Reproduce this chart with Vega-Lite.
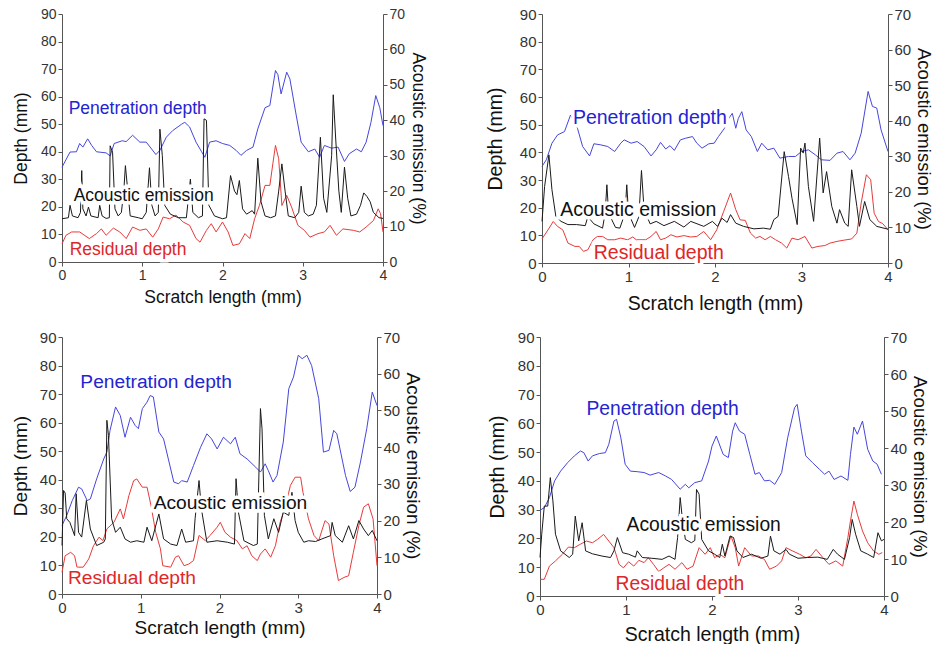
{
"$schema": "https://vega.github.io/schema/vega-lite/v6.json",
"padding": {"left": 11, "top": 7, "right": 0, "bottom": 0},
"background": "white",
"datasets": {
"one": [{"k": 1}],
"p1pen": [{"x":0,"y":34.4},{"x":0.1,"y":39.9},{"x":0.18,"y":40},{"x":0.22,"y":43},{"x":0.26,"y":41.7},{"x":0.32,"y":44.7},{"x":0.37,"y":42.3},{"x":0.43,"y":40},{"x":0.55,"y":39.6},{"x":0.6,"y":38.5},{"x":0.65,"y":43},{"x":0.75,"y":44},{"x":0.8,"y":43.7},{"x":0.88,"y":46},{"x":0.97,"y":43.5},{"x":1.05,"y":43.5},{"x":1.17,"y":39},{"x":1.22,"y":40.5},{"x":1.3,"y":45.3},{"x":1.38,"y":47.7},{"x":1.49,"y":50},{"x":1.53,"y":50.7},{"x":1.59,"y":49},{"x":1.67,"y":43.5},{"x":1.74,"y":40},{"x":1.78,"y":38},{"x":1.84,"y":43.5},{"x":1.92,"y":44},{"x":2.0,"y":43},{"x":2.09,"y":42.3},{"x":2.17,"y":40.5},{"x":2.23,"y":38.7},{"x":2.3,"y":40.5},{"x":2.38,"y":41.7},{"x":2.44,"y":48.3},{"x":2.53,"y":56},{"x":2.59,"y":56.8},{"x":2.66,"y":69.5},{"x":2.69,"y":68},{"x":2.73,"y":61},{"x":2.8,"y":68.9},{"x":2.84,"y":66.4},{"x":2.92,"y":53},{"x":2.98,"y":43.5},{"x":3.07,"y":40},{"x":3.15,"y":41},{"x":3.21,"y":38},{"x":3.27,"y":42.3},{"x":3.36,"y":41.3},{"x":3.44,"y":41.7},{"x":3.52,"y":36.5},{"x":3.58,"y":39.3},{"x":3.67,"y":41},{"x":3.73,"y":40},{"x":3.79,"y":43.5},{"x":3.85,"y":50.7},{"x":3.91,"y":60.4},{"x":3.96,"y":56},{"x":4.0,"y":49.5}],
"p1res": [{"x":0,"y":6.6},{"x":0.05,"y":9.7},{"x":0.12,"y":10.9},{"x":0.22,"y":10.9},{"x":0.34,"y":8.5},{"x":0.43,"y":10.3},{"x":0.49,"y":12},{"x":0.55,"y":9.7},{"x":0.64,"y":12.3},{"x":0.72,"y":10.9},{"x":0.8,"y":8.5},{"x":0.88,"y":12.7},{"x":0.97,"y":11.5},{"x":1.05,"y":12},{"x":1.13,"y":9},{"x":1.2,"y":12},{"x":1.26,"y":16.3},{"x":1.34,"y":15.7},{"x":1.42,"y":17},{"x":1.51,"y":14.5},{"x":1.59,"y":13.3},{"x":1.67,"y":8.5},{"x":1.72,"y":7.2},{"x":1.8,"y":11.5},{"x":1.86,"y":13.9},{"x":1.92,"y":10.9},{"x":2.0,"y":14.5},{"x":2.07,"y":10.9},{"x":2.13,"y":6},{"x":2.21,"y":6.6},{"x":2.28,"y":10.3},{"x":2.34,"y":8.5},{"x":2.4,"y":15.7},{"x":2.46,"y":20.5},{"x":2.53,"y":27.8},{"x":2.59,"y":27.8},{"x":2.63,"y":36.2},{"x":2.66,"y":42.3},{"x":2.7,"y":37.5},{"x":2.74,"y":20.5},{"x":2.8,"y":24.2},{"x":2.86,"y":20},{"x":2.94,"y":13.3},{"x":3.02,"y":11.5},{"x":3.09,"y":9},{"x":3.19,"y":10.3},{"x":3.27,"y":10.9},{"x":3.34,"y":13.3},{"x":3.42,"y":9.7},{"x":3.5,"y":12},{"x":3.63,"y":11.5},{"x":3.71,"y":10.9},{"x":3.79,"y":12.7},{"x":3.88,"y":15},{"x":3.94,"y":19.3},{"x":3.97,"y":17.5},{"x":4.0,"y":10.9}],
"p1ae": [{"x":0,"y":12.2},{"x":0.08,"y":12.5},{"x":0.1,"y":16},{"x":0.13,"y":13},{"x":0.2,"y":12.5},{"x":0.23,"y":14},{"x":0.246,"y":25.8},{"x":0.26,"y":15},{"x":0.3,"y":13},{"x":0.33,"y":15.5},{"x":0.36,"y":13},{"x":0.45,"y":12.5},{"x":0.47,"y":16},{"x":0.5,"y":13},{"x":0.55,"y":12.3},{"x":0.59,"y":12.5},{"x":0.6,"y":32.8},{"x":0.63,"y":31},{"x":0.66,"y":15},{"x":0.7,"y":13},{"x":0.74,"y":14},{"x":0.77,"y":20},{"x":0.79,"y":27.2},{"x":0.82,"y":20},{"x":0.85,"y":13},{"x":0.95,"y":12.5},{"x":1.0,"y":12.2},{"x":1.05,"y":14},{"x":1.09,"y":26.6},{"x":1.12,"y":16},{"x":1.16,"y":13},{"x":1.2,"y":14},{"x":1.22,"y":37.5},{"x":1.25,"y":30},{"x":1.28,"y":16},{"x":1.35,"y":13.5},{"x":1.45,"y":12.5},{"x":1.55,"y":12.5},{"x":1.6,"y":23.4},{"x":1.63,"y":14},{"x":1.7,"y":12.5},{"x":1.75,"y":13},{"x":1.77,"y":40.4},{"x":1.8,"y":40},{"x":1.83,"y":16},{"x":1.9,"y":13},{"x":2.0,"y":12.2},{"x":2.05,"y":12.5},{"x":2.1,"y":24.4},{"x":2.15,"y":20},{"x":2.18,"y":19},{"x":2.21,"y":23},{"x":2.25,"y":15},{"x":2.3,"y":13.5},{"x":2.37,"y":14.5},{"x":2.4,"y":13.5},{"x":2.44,"y":29.3},{"x":2.48,"y":17},{"x":2.53,"y":13},{"x":2.6,"y":12.5},{"x":2.66,"y":13},{"x":2.7,"y":20},{"x":2.74,"y":27.7},{"x":2.78,"y":20},{"x":2.82,"y":13},{"x":2.9,"y":12.5},{"x":2.95,"y":14},{"x":2.98,"y":21.4},{"x":3.02,"y":14},{"x":3.07,"y":13},{"x":3.13,"y":13.5},{"x":3.17,"y":16},{"x":3.22,"y":35.2},{"x":3.26,"y":18},{"x":3.3,"y":14},{"x":3.36,"y":30},{"x":3.38,"y":47.2},{"x":3.41,"y":35},{"x":3.45,"y":20},{"x":3.48,"y":14},{"x":3.52,"y":26.8},{"x":3.56,"y":18},{"x":3.6,"y":13},{"x":3.67,"y":13.5},{"x":3.72,"y":16},{"x":3.76,"y":19.5},{"x":3.8,"y":18.5},{"x":3.84,"y":17},{"x":3.88,"y":14},{"x":3.95,"y":12.5},{"x":4.0,"y":12.3}],
"p2pen": [{"x":0,"y":34.9},{"x":0.05,"y":37.3},{"x":0.115,"y":43.3},{"x":0.18,"y":46.3},{"x":0.26,"y":47.5},{"x":0.33,"y":53.5},{"x":0.41,"y":48.7},{"x":0.47,"y":42.1},{"x":0.55,"y":38.7},{"x":0.6,"y":43.1},{"x":0.68,"y":42.7},{"x":0.76,"y":42.1},{"x":0.84,"y":40.3},{"x":0.91,"y":43.3},{"x":0.95,"y":44.5},{"x":1.03,"y":43.3},{"x":1.1,"y":43.9},{"x":1.18,"y":42.1},{"x":1.26,"y":38.7},{"x":1.32,"y":40.9},{"x":1.37,"y":43.6},{"x":1.43,"y":41.2},{"x":1.48,"y":42.4},{"x":1.53,"y":40.7},{"x":1.6,"y":44.5},{"x":1.66,"y":45.1},{"x":1.74,"y":45.7},{"x":1.79,"y":43.3},{"x":1.85,"y":41.5},{"x":1.93,"y":43.1},{"x":1.99,"y":43.3},{"x":2.04,"y":45.7},{"x":2.11,"y":48.7},{"x":2.16,"y":52.3},{"x":2.2,"y":54.1},{"x":2.24,"y":48.7},{"x":2.27,"y":52.3},{"x":2.31,"y":54.7},{"x":2.36,"y":48.1},{"x":2.42,"y":45.7},{"x":2.49,"y":40.3},{"x":2.54,"y":43.3},{"x":2.61,"y":40.9},{"x":2.68,"y":41.5},{"x":2.75,"y":37.9},{"x":2.85,"y":38.5},{"x":2.93,"y":38.5},{"x":3.0,"y":40.3},{"x":3.08,"y":40.9},{"x":3.16,"y":39.1},{"x":3.23,"y":37.3},{"x":3.33,"y":37.1},{"x":3.41,"y":39.7},{"x":3.48,"y":40.3},{"x":3.56,"y":37.3},{"x":3.62,"y":39.7},{"x":3.69,"y":46.9},{"x":3.77,"y":62},{"x":3.82,"y":56.6},{"x":3.87,"y":56},{"x":3.92,"y":48.1},{"x":4.0,"y":40.3}],
"p2res": [{"x":0,"y":8.7},{"x":0.07,"y":12},{"x":0.13,"y":15},{"x":0.18,"y":13.2},{"x":0.24,"y":12},{"x":0.3,"y":7.2},{"x":0.38,"y":6},{"x":0.43,"y":6},{"x":0.48,"y":4.2},{"x":0.53,"y":4.8},{"x":0.59,"y":8.4},{"x":0.64,"y":9.6},{"x":0.7,"y":9.6},{"x":0.76,"y":8.4},{"x":0.84,"y":8.4},{"x":0.91,"y":9},{"x":0.99,"y":8.4},{"x":1.05,"y":9.4},{"x":1.09,"y":8.4},{"x":1.2,"y":8.4},{"x":1.26,"y":9.6},{"x":1.32,"y":11.4},{"x":1.37,"y":8.4},{"x":1.43,"y":9},{"x":1.49,"y":10.2},{"x":1.56,"y":9.4},{"x":1.64,"y":9.9},{"x":1.72,"y":9.4},{"x":1.79,"y":9.6},{"x":1.87,"y":11.4},{"x":1.95,"y":8.4},{"x":2.02,"y":12},{"x":2.1,"y":18.6},{"x":2.18,"y":25.3},{"x":2.24,"y":19.3},{"x":2.29,"y":15.6},{"x":2.35,"y":15.4},{"x":2.41,"y":10.8},{"x":2.47,"y":9},{"x":2.52,"y":9.6},{"x":2.58,"y":8.4},{"x":2.64,"y":9.6},{"x":2.7,"y":8.4},{"x":2.77,"y":7.2},{"x":2.83,"y":5.4},{"x":2.89,"y":9},{"x":2.96,"y":8.4},{"x":3.04,"y":9.6},{"x":3.12,"y":5.4},{"x":3.19,"y":6},{"x":3.27,"y":6.3},{"x":3.33,"y":7.2},{"x":3.41,"y":7.8},{"x":3.48,"y":8.2},{"x":3.58,"y":8.7},{"x":3.64,"y":10.8},{"x":3.69,"y":21.7},{"x":3.75,"y":31.9},{"x":3.8,"y":30.1},{"x":3.84,"y":18},{"x":3.89,"y":15},{"x":3.94,"y":14.2},{"x":4.0,"y":12}],
"p2ae": [{"x":0,"y":11.7},{"x":0.03,"y":21.5},{"x":0.08,"y":30.4},{"x":0.115,"y":20.6},{"x":0.16,"y":13.1},{"x":0.22,"y":11.7},{"x":0.3,"y":10.8},{"x":0.4,"y":10.8},{"x":0.5,"y":10.5},{"x":0.53,"y":13},{"x":0.6,"y":11},{"x":0.7,"y":9.8},{"x":0.73,"y":14},{"x":0.75,"y":22},{"x":0.77,"y":14},{"x":0.85,"y":10},{"x":0.9,"y":9.8},{"x":0.96,"y":14},{"x":0.98,"y":22},{"x":1.0,"y":14},{"x":1.07,"y":10},{"x":1.12,"y":13},{"x":1.15,"y":26},{"x":1.18,"y":15},{"x":1.25,"y":11},{"x":1.32,"y":11.7},{"x":1.41,"y":10.5},{"x":1.53,"y":11.7},{"x":1.64,"y":10.1},{"x":1.72,"y":11.7},{"x":1.87,"y":10.3},{"x":1.97,"y":11.7},{"x":2.03,"y":10.3},{"x":2.08,"y":12.6},{"x":2.14,"y":11.4},{"x":2.18,"y":13.6},{"x":2.24,"y":11.2},{"x":2.33,"y":10.3},{"x":2.45,"y":9.6},{"x":2.56,"y":9.8},{"x":2.64,"y":9.5},{"x":2.68,"y":12.2},{"x":2.73,"y":13.1},{"x":2.8,"y":31.3},{"x":2.85,"y":24.3},{"x":2.89,"y":18.2},{"x":2.95,"y":10.8},{"x":2.99,"y":32.3},{"x":3.02,"y":30.9},{"x":3.04,"y":33.7},{"x":3.08,"y":21.5},{"x":3.14,"y":11.7},{"x":3.21,"y":35.1},{"x":3.25,"y":19.7},{"x":3.29,"y":25.7},{"x":3.35,"y":15.9},{"x":3.41,"y":11.2},{"x":3.44,"y":15},{"x":3.5,"y":11.2},{"x":3.54,"y":10.3},{"x":3.58,"y":26.2},{"x":3.64,"y":15.9},{"x":3.67,"y":10.3},{"x":3.73,"y":17.3},{"x":3.79,"y":12.2},{"x":3.87,"y":10.3},{"x":4.0,"y":9.5}],
"p3pen": [{"x":0,"y":24},{"x":0.06,"y":27.5},{"x":0.13,"y":32.7},{"x":0.21,"y":37.4},{"x":0.25,"y":36.8},{"x":0.32,"y":32.7},{"x":0.36,"y":33.3},{"x":0.44,"y":40.3},{"x":0.53,"y":47.3},{"x":0.57,"y":49.7},{"x":0.61,"y":57.3},{"x":0.68,"y":65.5},{"x":0.74,"y":62.5},{"x":0.8,"y":54.9},{"x":0.87,"y":61.9},{"x":0.93,"y":59},{"x":0.97,"y":57.9},{"x":1.02,"y":64.9},{"x":1.08,"y":67.2},{"x":1.12,"y":69.5},{"x":1.16,"y":69},{"x":1.23,"y":56.7},{"x":1.29,"y":54.3},{"x":1.35,"y":47.3},{"x":1.42,"y":39.2},{"x":1.48,"y":38.6},{"x":1.52,"y":39.7},{"x":1.59,"y":39.2},{"x":1.67,"y":45},{"x":1.76,"y":51.4},{"x":1.84,"y":56.1},{"x":1.9,"y":54.3},{"x":1.97,"y":50.8},{"x":2.05,"y":54.9},{"x":2.14,"y":52.6},{"x":2.2,"y":54.9},{"x":2.26,"y":49.1},{"x":2.35,"y":47.3},{"x":2.46,"y":44.4},{"x":2.52,"y":42.7},{"x":2.58,"y":45.6},{"x":2.62,"y":43.2},{"x":2.68,"y":39.2},{"x":2.73,"y":41.5},{"x":2.81,"y":53.2},{"x":2.88,"y":71.9},{"x":2.94,"y":76},{"x":3.0,"y":83.6},{"x":3.05,"y":82.4},{"x":3.11,"y":83.6},{"x":3.17,"y":80},{"x":3.26,"y":68.4},{"x":3.32,"y":49.7},{"x":3.39,"y":50.3},{"x":3.45,"y":57.3},{"x":3.49,"y":56.1},{"x":3.53,"y":50.8},{"x":3.6,"y":41.5},{"x":3.66,"y":35.9},{"x":3.72,"y":37.4},{"x":3.79,"y":46.2},{"x":3.87,"y":57.9},{"x":3.94,"y":70.7},{"x":4.0,"y":66}],
"p3res": [{"x":0,"y":7.6},{"x":0.04,"y":13.4},{"x":0.11,"y":14.6},{"x":0.16,"y":13.4},{"x":0.19,"y":9.4},{"x":0.27,"y":9.4},{"x":0.34,"y":12.3},{"x":0.4,"y":16.9},{"x":0.47,"y":19.9},{"x":0.52,"y":18.7},{"x":0.57,"y":22.8},{"x":0.66,"y":25.1},{"x":0.74,"y":29.8},{"x":0.78,"y":26.3},{"x":0.85,"y":34.5},{"x":0.91,"y":39.7},{"x":0.95,"y":40.3},{"x":1.02,"y":37.4},{"x":1.08,"y":37.4},{"x":1.13,"y":31},{"x":1.19,"y":21.6},{"x":1.25,"y":15.8},{"x":1.28,"y":9.9},{"x":1.38,"y":9.4},{"x":1.44,"y":12.9},{"x":1.48,"y":13.4},{"x":1.55,"y":9.9},{"x":1.61,"y":10.5},{"x":1.67,"y":11.7},{"x":1.74,"y":20.5},{"x":1.82,"y":18.7},{"x":1.88,"y":20.5},{"x":1.97,"y":23.4},{"x":2.01,"y":25.1},{"x":2.07,"y":21.6},{"x":2.14,"y":19.9},{"x":2.22,"y":18.7},{"x":2.29,"y":15.8},{"x":2.35,"y":16.9},{"x":2.41,"y":13.4},{"x":2.48,"y":11.7},{"x":2.52,"y":14},{"x":2.58,"y":15.8},{"x":2.65,"y":12.9},{"x":2.71,"y":16.9},{"x":2.77,"y":25.1},{"x":2.84,"y":31},{"x":2.9,"y":38},{"x":2.96,"y":40.9},{"x":3.03,"y":40.9},{"x":3.06,"y":35.6},{"x":3.13,"y":26.3},{"x":3.2,"y":20.5},{"x":3.26,"y":18.7},{"x":3.34,"y":25.7},{"x":3.39,"y":24.5},{"x":3.45,"y":13.4},{"x":3.51,"y":4.7},{"x":3.58,"y":5.8},{"x":3.64,"y":6.4},{"x":3.7,"y":14.6},{"x":3.77,"y":24},{"x":3.83,"y":30.4},{"x":3.89,"y":31.6},{"x":3.95,"y":26.3},{"x":4.0,"y":9.9}],
"p3ae": [{"x":0,"y":13.2},{"x":0.02,"y":28.2},{"x":0.04,"y":27.5},{"x":0.06,"y":20.5},{"x":0.1,"y":19.5},{"x":0.16,"y":15.9},{"x":0.18,"y":27.3},{"x":0.21,"y":16.8},{"x":0.25,"y":15.5},{"x":0.31,"y":25.5},{"x":0.36,"y":17.7},{"x":0.44,"y":13.2},{"x":0.53,"y":14.1},{"x":0.55,"y":15},{"x":0.57,"y":47.3},{"x":0.59,"y":43.2},{"x":0.63,"y":20.5},{"x":0.68,"y":16.8},{"x":0.74,"y":18.2},{"x":0.8,"y":15},{"x":0.87,"y":14.1},{"x":0.95,"y":14.5},{"x":1.04,"y":14.1},{"x":1.08,"y":18.2},{"x":1.14,"y":14.5},{"x":1.23,"y":21.8},{"x":1.29,"y":15},{"x":1.38,"y":13.6},{"x":1.46,"y":13.2},{"x":1.52,"y":17.7},{"x":1.57,"y":14.1},{"x":1.67,"y":14.5},{"x":1.69,"y":20.5},{"x":1.74,"y":30.9},{"x":1.77,"y":23.2},{"x":1.84,"y":14.1},{"x":1.97,"y":14.5},{"x":2.1,"y":14.1},{"x":2.19,"y":13.6},{"x":2.21,"y":31.4},{"x":2.24,"y":22.3},{"x":2.31,"y":14.5},{"x":2.43,"y":13.2},{"x":2.48,"y":13.6},{"x":2.52,"y":50.5},{"x":2.54,"y":45},{"x":2.57,"y":21.4},{"x":2.62,"y":15},{"x":2.69,"y":20.5},{"x":2.75,"y":16.8},{"x":2.81,"y":22.3},{"x":2.88,"y":21.4},{"x":2.92,"y":27.7},{"x":2.96,"y":20},{"x":3.0,"y":16.8},{"x":3.07,"y":14.1},{"x":3.13,"y":14.5},{"x":3.22,"y":14.3},{"x":3.3,"y":15},{"x":3.41,"y":15.9},{"x":3.43,"y":19.5},{"x":3.47,"y":15.9},{"x":3.56,"y":14.1},{"x":3.64,"y":18.6},{"x":3.7,"y":15},{"x":3.77,"y":20},{"x":3.83,"y":17.7},{"x":3.89,"y":15.9},{"x":3.94,"y":17.3},{"x":4.0,"y":14.5}],
"p4pen": [{"x":0,"y":29.8},{"x":0.05,"y":30.7},{"x":0.11,"y":34.2},{"x":0.17,"y":40},{"x":0.24,"y":43.4},{"x":0.32,"y":46.3},{"x":0.4,"y":48.7},{"x":0.47,"y":50.4},{"x":0.51,"y":49.8},{"x":0.56,"y":46.9},{"x":0.61,"y":48.7},{"x":0.69,"y":49.5},{"x":0.76,"y":49.8},{"x":0.8,"y":52.7},{"x":0.86,"y":60.8},{"x":0.89,"y":61.4},{"x":0.94,"y":55},{"x":0.99,"y":45.8},{"x":1.05,"y":43.4},{"x":1.13,"y":43.2},{"x":1.21,"y":42.9},{"x":1.28,"y":42},{"x":1.38,"y":42.9},{"x":1.46,"y":41.7},{"x":1.53,"y":40.5},{"x":1.63,"y":37.1},{"x":1.69,"y":38.8},{"x":1.73,"y":37.6},{"x":1.8,"y":39.4},{"x":1.88,"y":40},{"x":1.96,"y":46.9},{"x":2.0,"y":52.1},{"x":2.05,"y":55.6},{"x":2.13,"y":49.2},{"x":2.19,"y":48.1},{"x":2.24,"y":57.3},{"x":2.27,"y":60.2},{"x":2.32,"y":57.3},{"x":2.38,"y":56.2},{"x":2.44,"y":49.2},{"x":2.5,"y":42.3},{"x":2.55,"y":42.9},{"x":2.61,"y":40},{"x":2.67,"y":40.2},{"x":2.73,"y":38.8},{"x":2.81,"y":42.9},{"x":2.88,"y":55},{"x":2.96,"y":65.4},{"x":2.99,"y":66.6},{"x":3.04,"y":57.3},{"x":3.09,"y":48.7},{"x":3.17,"y":46.3},{"x":3.25,"y":44},{"x":3.31,"y":42.3},{"x":3.36,"y":43.4},{"x":3.42,"y":40.5},{"x":3.5,"y":41.7},{"x":3.58,"y":40.2},{"x":3.61,"y":49.2},{"x":3.65,"y":58.7},{"x":3.69,"y":56.2},{"x":3.75,"y":60.8},{"x":3.81,"y":51},{"x":3.87,"y":46.9},{"x":3.92,"y":45.8},{"x":3.97,"y":42.3}],
"p4res": [{"x":0,"y":5.8},{"x":0.05,"y":5.8},{"x":0.11,"y":10.4},{"x":0.18,"y":12.2},{"x":0.26,"y":14.5},{"x":0.33,"y":17},{"x":0.4,"y":16.8},{"x":0.47,"y":18},{"x":0.54,"y":19.1},{"x":0.61,"y":18.5},{"x":0.67,"y":19.7},{"x":0.74,"y":21.4},{"x":0.8,"y":19.1},{"x":0.86,"y":16.8},{"x":0.92,"y":11},{"x":0.97,"y":9.8},{"x":1.03,"y":11.9},{"x":1.09,"y":10.4},{"x":1.15,"y":12.4},{"x":1.21,"y":11.6},{"x":1.26,"y":13.3},{"x":1.32,"y":11},{"x":1.38,"y":8.5},{"x":1.44,"y":9.8},{"x":1.5,"y":11},{"x":1.57,"y":9.3},{"x":1.65,"y":11.6},{"x":1.71,"y":9.3},{"x":1.78,"y":10.4},{"x":1.85,"y":16.8},{"x":1.92,"y":14.5},{"x":1.98,"y":16.8},{"x":2.03,"y":13.3},{"x":2.09,"y":14.5},{"x":2.15,"y":13.3},{"x":2.22,"y":20.9},{"x":2.27,"y":16.8},{"x":2.31,"y":10.4},{"x":2.38,"y":16.8},{"x":2.46,"y":13.9},{"x":2.54,"y":13.9},{"x":2.61,"y":12.7},{"x":2.67,"y":9.3},{"x":2.75,"y":10.4},{"x":2.81,"y":12.2},{"x":2.86,"y":16.8},{"x":2.94,"y":15.6},{"x":3.02,"y":14.5},{"x":3.09,"y":13.3},{"x":3.15,"y":13.9},{"x":3.21,"y":16.2},{"x":3.29,"y":13.3},{"x":3.36,"y":11},{"x":3.44,"y":12.2},{"x":3.52,"y":10.4},{"x":3.58,"y":20.3},{"x":3.61,"y":26.1},{"x":3.65,"y":33},{"x":3.69,"y":28.4},{"x":3.75,"y":22.6},{"x":3.81,"y":18.5},{"x":3.88,"y":15.6},{"x":3.94,"y":14.5},{"x":3.98,"y":15.1}],
"p4ae": [{"x":0,"y":10.4},{"x":0.02,"y":16.7},{"x":0.05,"y":24.3},{"x":0.09,"y":24.3},{"x":0.12,"y":32},{"x":0.15,"y":25.7},{"x":0.18,"y":16.7},{"x":0.24,"y":12.2},{"x":0.34,"y":10.4},{"x":0.38,"y":11.3},{"x":0.41,"y":21.6},{"x":0.45,"y":14.9},{"x":0.49,"y":19.8},{"x":0.53,"y":12.2},{"x":0.61,"y":11.4},{"x":0.72,"y":10.8},{"x":0.82,"y":10.4},{"x":0.86,"y":12.2},{"x":0.9,"y":15.8},{"x":0.96,"y":11.7},{"x":1.03,"y":11.3},{"x":1.11,"y":10.5},{"x":1.13,"y":12.2},{"x":1.19,"y":10.4},{"x":1.3,"y":10.2},{"x":1.42,"y":9.9},{"x":1.5,"y":10.8},{"x":1.57,"y":9.9},{"x":1.6,"y":15.8},{"x":1.63,"y":26.6},{"x":1.65,"y":22.1},{"x":1.69,"y":15.3},{"x":1.76,"y":14.4},{"x":1.8,"y":15},{"x":1.82,"y":28.8},{"x":1.85,"y":27.5},{"x":1.88,"y":15.3},{"x":1.96,"y":12.2},{"x":2.03,"y":11.3},{"x":2.09,"y":10.4},{"x":2.12,"y":14},{"x":2.15,"y":10.8},{"x":2.21,"y":16.2},{"x":2.25,"y":15.8},{"x":2.29,"y":12.2},{"x":2.36,"y":10.4},{"x":2.46,"y":11.3},{"x":2.57,"y":10.2},{"x":2.65,"y":10.8},{"x":2.68,"y":16.2},{"x":2.72,"y":12.2},{"x":2.79,"y":11.3},{"x":2.86,"y":12.6},{"x":2.9,"y":11.3},{"x":3.0,"y":10.2},{"x":3.11,"y":10.4},{"x":3.23,"y":10.5},{"x":3.34,"y":9.9},{"x":3.41,"y":12.6},{"x":3.46,"y":11.3},{"x":3.54,"y":9.9},{"x":3.6,"y":15.8},{"x":3.63,"y":20.7},{"x":3.67,"y":16.7},{"x":3.73,"y":12.2},{"x":3.81,"y":11.3},{"x":3.88,"y":10.4},{"x":3.93,"y":17.1},{"x":3.97,"y":14.9},{"x":4.0,"y":15.3}]
},
"vconcat": [
{"hconcat": [
{"width": 321, "height": 248,
 "layer": [
  {"layer": [
    {"data": {"name": "p1pen"}, "mark": {"type": "line", "color": "#4646dc", "strokeWidth": 1},
     "encoding": {"x": {"field": "x", "type": "quantitative", "scale": {"domain": [0, 4], "nice": false}, "axis": {"values": [0, 1, 2, 3, 4], "format": "d", "title": "Scratch length (mm)", "labelFontSize": 14, "titleFontSize": 17.5, "titlePadding": 6}},
      "y": {"field": "y", "type": "quantitative", "scale": {"domain": [0, 90], "nice": false}, "axis": {"orient": "left", "values": [0, 10, 20, 30, 40, 50, 60, 70, 80, 90], "title": "Depth (mm)", "labelFontSize": 14, "titleFontSize": 17.5, "titlePadding": 10, "labelOverlap": false}}}},
    {"data": {"name": "p1res"}, "mark": {"type": "line", "color": "#e83a3a", "strokeWidth": 1},
     "encoding": {"x": {"field": "x", "type": "quantitative"}, "y": {"field": "y", "type": "quantitative", "scale": {"domain": [0, 90], "nice": false}, "axis": {"orient": "left", "values": [0, 10, 20, 30, 40, 50, 60, 70, 80, 90], "title": "Depth (mm)", "labelFontSize": 14, "titleFontSize": 17.5, "titlePadding": 10, "labelOverlap": false}}}}
  ]},
  {"data": {"name": "p1ae"}, "mark": {"type": "line", "color": "#1a1a1a", "strokeWidth": 1},
   "encoding": {"x": {"field": "x", "type": "quantitative"},
    "y": {"field": "y", "type": "quantitative", "scale": {"domain": [0, 70], "nice": false}, "axis": {"orient": "right", "values": [0, 10, 20, 30, 40, 50, 60, 70], "title": "Acoustic emission (%)", "labelFontSize": 14, "titleFontSize": 17.5, "titlePadding": 4, "labelOverlap": false}}}},
  {"data": {"name": "one"}, "layer": [
    {"mark": {"type": "text", "text": "Penetration depth", "align": "left", "baseline": "middle", "fontSize": 17.5, "fill": "white", "stroke": "white", "strokeWidth": 7},
     "encoding": {"x": {"datum": 0.083, "type": "quantitative"}, "y": {"datum": 55.6, "type": "quantitative", "scale": {"domain": [0, 90], "nice": false}, "axis": {"orient": "left", "labels": false, "ticks": false, "domain": false, "title": null}}}},
    {"mark": {"type": "text", "text": "Penetration depth", "align": "left", "baseline": "middle", "fontSize": 17.5, "color": "#2424d2"},
     "encoding": {"x": {"datum": 0.083, "type": "quantitative"}, "y": {"datum": 55.6, "type": "quantitative"}}},
    {"mark": {"type": "text", "text": "Residual depth", "align": "left", "baseline": "middle", "fontSize": 17.5, "fill": "white", "stroke": "white", "strokeWidth": 7},
     "encoding": {"x": {"datum": 0.096, "type": "quantitative"}, "y": {"datum": 4.2, "type": "quantitative"}}},
    {"mark": {"type": "text", "text": "Residual depth", "align": "left", "baseline": "middle", "fontSize": 17.5, "color": "#e02626"},
     "encoding": {"x": {"datum": 0.096, "type": "quantitative"}, "y": {"datum": 4.2, "type": "quantitative"}}}
  ]},
  {"data": {"name": "one"}, "layer": [
    {"mark": {"type": "text", "text": "Acoustic emission", "align": "left", "baseline": "middle", "fontSize": 17.5, "fill": "white", "stroke": "white", "strokeWidth": 7},
     "encoding": {"x": {"datum": 0.145, "type": "quantitative"}, "y": {"datum": 18.6, "type": "quantitative", "scale": {"domain": [0, 70], "nice": false}, "axis": {"orient": "left", "labels": false, "ticks": false, "domain": false, "title": null}}}},
    {"mark": {"type": "text", "text": "Acoustic emission", "align": "left", "baseline": "middle", "fontSize": 17.5, "color": "#111111"},
     "encoding": {"x": {"datum": 0.145, "type": "quantitative"}, "y": {"datum": 18.6, "type": "quantitative"}}}
  ]}
 ],
 "resolve": {"scale": {"y": "independent"}}
},
{"width": 346, "height": 249,
 "layer": [
  {"layer": [
    {"data": {"name": "p2pen"}, "mark": {"type": "line", "color": "#4646dc", "strokeWidth": 1},
     "encoding": {"x": {"field": "x", "type": "quantitative", "scale": {"domain": [0, 4], "nice": false}, "axis": {"values": [0, 1, 2, 3, 4], "format": "d", "title": "Scratch length (mm)", "labelFontSize": 15, "titleFontSize": 19.5, "titlePadding": 10}},
      "y": {"field": "y", "type": "quantitative", "scale": {"domain": [0, 90], "nice": false}, "axis": {"orient": "left", "values": [0, 10, 20, 30, 40, 50, 60, 70, 80, 90], "title": "Depth (mm)", "labelFontSize": 15, "titleFontSize": 19.5, "titlePadding": 14, "labelOverlap": false}}}},
    {"data": {"name": "p2res"}, "mark": {"type": "line", "color": "#e83a3a", "strokeWidth": 1},
     "encoding": {"x": {"field": "x", "type": "quantitative"}, "y": {"field": "y", "type": "quantitative", "scale": {"domain": [0, 90], "nice": false}, "axis": {"orient": "left", "values": [0, 10, 20, 30, 40, 50, 60, 70, 80, 90], "title": "Depth (mm)", "labelFontSize": 15, "titleFontSize": 19.5, "titlePadding": 14, "labelOverlap": false}}}}
  ]},
  {"data": {"name": "p2ae"}, "mark": {"type": "line", "color": "#1a1a1a", "strokeWidth": 1},
   "encoding": {"x": {"field": "x", "type": "quantitative"},
    "y": {"field": "y", "type": "quantitative", "scale": {"domain": [0, 70], "nice": false}, "axis": {"orient": "right", "values": [0, 10, 20, 30, 40, 50, 60, 70], "title": "Acoustic emission (%)", "labelFontSize": 15, "titleFontSize": 18.5, "titlePadding": 3, "labelOverlap": false}}}},
  {"data": {"name": "one"}, "layer": [
    {"mark": {"type": "text", "text": "Penetration depth", "align": "left", "baseline": "middle", "fontSize": 19.5, "fill": "white", "stroke": "white", "strokeWidth": 7},
     "encoding": {"x": {"datum": 0.357, "type": "quantitative"}, "y": {"datum": 52.3, "type": "quantitative", "scale": {"domain": [0, 90], "nice": false}, "axis": {"orient": "left", "labels": false, "ticks": false, "domain": false, "title": null}}}},
    {"mark": {"type": "text", "text": "Penetration depth", "align": "left", "baseline": "middle", "fontSize": 19.5, "color": "#2424d2"},
     "encoding": {"x": {"datum": 0.357, "type": "quantitative"}, "y": {"datum": 52.3, "type": "quantitative"}}},
    {"mark": {"type": "text", "text": "Residual depth", "align": "left", "baseline": "middle", "fontSize": 19.5, "fill": "white", "stroke": "white", "strokeWidth": 7},
     "encoding": {"x": {"datum": 0.598, "type": "quantitative"}, "y": {"datum": 3.6, "type": "quantitative"}}},
    {"mark": {"type": "text", "text": "Residual depth", "align": "left", "baseline": "middle", "fontSize": 19.5, "color": "#e02626"},
     "encoding": {"x": {"datum": 0.598, "type": "quantitative"}, "y": {"datum": 3.6, "type": "quantitative"}}}
  ]},
  {"data": {"name": "one"}, "layer": [
    {"mark": {"type": "text", "text": "Acoustic emission", "align": "left", "baseline": "middle", "fontSize": 19.5, "fill": "white", "stroke": "white", "strokeWidth": 7},
     "encoding": {"x": {"datum": 0.21, "type": "quantitative"}, "y": {"datum": 15, "type": "quantitative", "scale": {"domain": [0, 70], "nice": false}, "axis": {"orient": "left", "labels": false, "ticks": false, "domain": false, "title": null}}}},
    {"mark": {"type": "text", "text": "Acoustic emission", "align": "left", "baseline": "middle", "fontSize": 19.5, "color": "#111111"},
     "encoding": {"x": {"datum": 0.21, "type": "quantitative"}, "y": {"datum": 15, "type": "quantitative"}}}
  ]}
 ],
 "resolve": {"scale": {"y": "independent"}}
}
], "spacing": 58},
{"hconcat": [
{"width": 315, "height": 257,
 "layer": [
  {"layer": [
    {"data": {"name": "p3pen"}, "mark": {"type": "line", "color": "#4646dc", "strokeWidth": 1},
     "encoding": {"x": {"field": "x", "type": "quantitative", "scale": {"domain": [0, 4], "nice": false}, "axis": {"values": [0, 1, 2, 3, 4], "format": "d", "title": "Scratch length (mm)", "labelFontSize": 15, "titleFontSize": 19, "titlePadding": 3}},
      "y": {"field": "y", "type": "quantitative", "scale": {"domain": [0, 90], "nice": false}, "axis": {"orient": "left", "values": [0, 10, 20, 30, 40, 50, 60, 70, 80, 90], "title": "Depth (mm)", "labelFontSize": 15, "titleFontSize": 19, "titlePadding": 9, "labelOverlap": false}}}},
    {"data": {"name": "p3res"}, "mark": {"type": "line", "color": "#e83a3a", "strokeWidth": 1},
     "encoding": {"x": {"field": "x", "type": "quantitative"}, "y": {"field": "y", "type": "quantitative", "scale": {"domain": [0, 90], "nice": false}, "axis": {"orient": "left", "values": [0, 10, 20, 30, 40, 50, 60, 70, 80, 90], "title": "Depth (mm)", "labelFontSize": 15, "titleFontSize": 19, "titlePadding": 9, "labelOverlap": false}}}}
  ]},
  {"data": {"name": "p3ae"}, "mark": {"type": "line", "color": "#1a1a1a", "strokeWidth": 1},
   "encoding": {"x": {"field": "x", "type": "quantitative"},
    "y": {"field": "y", "type": "quantitative", "scale": {"domain": [0, 70], "nice": false}, "axis": {"orient": "right", "values": [0, 10, 20, 30, 40, 50, 60, 70], "title": "Acoustic emission (%)", "labelFontSize": 15, "titleFontSize": 19, "titlePadding": 3, "labelOverlap": false}}}},
  {"data": {"name": "one"}, "layer": [
    {"mark": {"type": "text", "text": "Penetration depth", "align": "left", "baseline": "middle", "fontSize": 19.2, "fill": "white", "stroke": "white", "strokeWidth": 7},
     "encoding": {"x": {"datum": 0.233, "type": "quantitative"}, "y": {"datum": 74.2, "type": "quantitative", "scale": {"domain": [0, 90], "nice": false}, "axis": {"orient": "left", "labels": false, "ticks": false, "domain": false, "title": null}}}},
    {"mark": {"type": "text", "text": "Penetration depth", "align": "left", "baseline": "middle", "fontSize": 19.2, "color": "#2424d2"},
     "encoding": {"x": {"datum": 0.233, "type": "quantitative"}, "y": {"datum": 74.2, "type": "quantitative"}}},
    {"mark": {"type": "text", "text": "Residual depth", "align": "left", "baseline": "middle", "fontSize": 19.2, "fill": "white", "stroke": "white", "strokeWidth": 7},
     "encoding": {"x": {"datum": 0.076, "type": "quantitative"}, "y": {"datum": 5.5, "type": "quantitative"}}},
    {"mark": {"type": "text", "text": "Residual depth", "align": "left", "baseline": "middle", "fontSize": 19.2, "color": "#e02626"},
     "encoding": {"x": {"datum": 0.076, "type": "quantitative"}, "y": {"datum": 5.5, "type": "quantitative"}}}
  ]},
  {"data": {"name": "one"}, "layer": [
    {"mark": {"type": "text", "text": "Acoustic emission", "align": "left", "baseline": "middle", "fontSize": 19.2, "fill": "white", "stroke": "white", "strokeWidth": 7},
     "encoding": {"x": {"datum": 1.164, "type": "quantitative"}, "y": {"datum": 24.8, "type": "quantitative", "scale": {"domain": [0, 70], "nice": false}, "axis": {"orient": "left", "labels": false, "ticks": false, "domain": false, "title": null}}}},
    {"mark": {"type": "text", "text": "Acoustic emission", "align": "left", "baseline": "middle", "fontSize": 19.2, "color": "#111111"},
     "encoding": {"x": {"datum": 1.164, "type": "quantitative"}, "y": {"datum": 24.8, "type": "quantitative"}}}
  ]}
 ],
 "resolve": {"scale": {"y": "independent"}}
},
{"width": 344, "height": 259,
 "layer": [
  {"layer": [
    {"data": {"name": "p4pen"}, "mark": {"type": "line", "color": "#4646dc", "strokeWidth": 1},
     "encoding": {"x": {"field": "x", "type": "quantitative", "scale": {"domain": [0, 4], "nice": false}, "axis": {"values": [0, 1, 2, 3, 4], "format": "d", "title": "Scratch length (mm)", "labelFontSize": 15, "titleFontSize": 19.5, "titlePadding": 8}},
      "y": {"field": "y", "type": "quantitative", "scale": {"domain": [0, 90], "nice": false}, "axis": {"orient": "left", "values": [0, 10, 20, 30, 40, 50, 60, 70, 80, 90], "title": "Depth (mm)", "labelFontSize": 15, "titleFontSize": 19.5, "titlePadding": 10, "labelOverlap": false}}}},
    {"data": {"name": "p4res"}, "mark": {"type": "line", "color": "#e83a3a", "strokeWidth": 1},
     "encoding": {"x": {"field": "x", "type": "quantitative"}, "y": {"field": "y", "type": "quantitative", "scale": {"domain": [0, 90], "nice": false}, "axis": {"orient": "left", "values": [0, 10, 20, 30, 40, 50, 60, 70, 80, 90], "title": "Depth (mm)", "labelFontSize": 15, "titleFontSize": 19.5, "titlePadding": 10, "labelOverlap": false}}}}
  ]},
  {"data": {"name": "p4ae"}, "mark": {"type": "line", "color": "#1a1a1a", "strokeWidth": 1},
   "encoding": {"x": {"field": "x", "type": "quantitative"},
    "y": {"field": "y", "type": "quantitative", "scale": {"domain": [0, 70], "nice": false}, "axis": {"orient": "right", "values": [0, 10, 20, 30, 40, 50, 60, 70], "title": "Acoustic emission (%)", "labelFontSize": 15, "titleFontSize": 18.5, "titlePadding": 3, "labelOverlap": false}}}},
  {"data": {"name": "one"}, "layer": [
    {"mark": {"type": "text", "text": "Penetration depth", "align": "left", "baseline": "middle", "fontSize": 19.3, "fill": "white", "stroke": "white", "strokeWidth": 7},
     "encoding": {"x": {"datum": 0.54, "type": "quantitative"}, "y": {"datum": 64.9, "type": "quantitative", "scale": {"domain": [0, 90], "nice": false}, "axis": {"orient": "left", "labels": false, "ticks": false, "domain": false, "title": null}}}},
    {"mark": {"type": "text", "text": "Penetration depth", "align": "left", "baseline": "middle", "fontSize": 19.3, "color": "#2424d2"},
     "encoding": {"x": {"datum": 0.54, "type": "quantitative"}, "y": {"datum": 64.9, "type": "quantitative"}}},
    {"mark": {"type": "text", "text": "Residual depth", "align": "left", "baseline": "middle", "fontSize": 19.3, "fill": "white", "stroke": "white", "strokeWidth": 7},
     "encoding": {"x": {"datum": 0.879, "type": "quantitative"}, "y": {"datum": 4.05, "type": "quantitative"}}},
    {"mark": {"type": "text", "text": "Residual depth", "align": "left", "baseline": "middle", "fontSize": 19.3, "color": "#e02626"},
     "encoding": {"x": {"datum": 0.879, "type": "quantitative"}, "y": {"datum": 4.05, "type": "quantitative"}}}
  ]},
  {"data": {"name": "one"}, "layer": [
    {"mark": {"type": "text", "text": "Acoustic emission", "align": "left", "baseline": "middle", "fontSize": 19.3, "fill": "white", "stroke": "white", "strokeWidth": 7},
     "encoding": {"x": {"datum": 1.006, "type": "quantitative"}, "y": {"datum": 19.2, "type": "quantitative", "scale": {"domain": [0, 70], "nice": false}, "axis": {"orient": "left", "labels": false, "ticks": false, "domain": false, "title": null}}}},
    {"mark": {"type": "text", "text": "Acoustic emission", "align": "left", "baseline": "middle", "fontSize": 19.3, "color": "#111111"},
     "encoding": {"x": {"datum": 1.006, "type": "quantitative"}, "y": {"datum": 19.2, "type": "quantitative"}}}
  ]}
 ],
 "resolve": {"scale": {"y": "independent"}}
}
], "spacing": 65}
],
"spacing": 17,
"config": {
 "view": {"stroke": null},
 "font": "Liberation Sans",
 "axis": {"grid": false, "domainColor": "#555555", "tickColor": "#555555", "labelColor": "#333333", "titleColor": "#111111", "titleFontWeight": "normal", "tickSize": 4, "labelFont": "Liberation Sans", "titleFont": "Liberation Sans", "labelFlush": false, "labelOverlap": false, "labelPadding": 2},
 "text": {"font": "Liberation Sans"}
}
}
